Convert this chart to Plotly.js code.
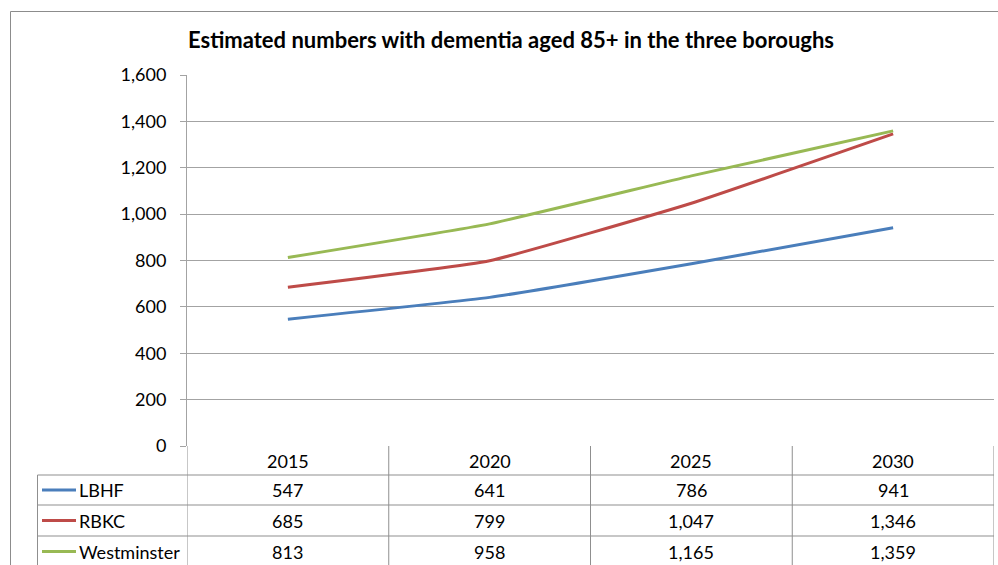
<!DOCTYPE html>
<html>
<head>
<meta charset="utf-8">
<script src="https://cdn.plot.ly/plotly-3.0.1.min.js"></script>
<style>html,body{margin:0;padding:0;background:#fff;}#chart{width:998px;height:565px;}</style>
</head>
<body>
<div id="chart"></div>
<script>
const years = ["2015", "2020", "2025", "2030"];
const seriesNames = ["LBHF", "RBKC", "Westminster"];
const lbhf = [547, 641, 786, 941];
const rbkc = [685, 799, 1047, 1346];
const westminster = [813, 958, 1165, 1359];
const seriesColors = ["#4a7ebb", "#be4b48", "#98b954"];
const yTickVals = [0, 200, 400, 600, 800, 1000, 1200, 1400, 1600];

const seriesValues = [lbhf, rbkc, westminster];
const FONT = "Lato, Calibri, 'Liberation Sans', sans-serif";

// layout geometry (pixels)
const W = 998, H = 565;
const plotL = 187, plotR = 994, plotT = 75, plotB = 446;
const plotW = plotR - plotL, plotH = plotB - plotT;
const px = p => (p - plotL) / plotW;   // pixel x -> paper
const py = p => (plotB - p) / plotH;   // pixel y -> paper

const rowEdges = [446, 475, 505, 536, 567];
const idx = years.map((_, i) => i);

const traces = seriesValues.map((vals, k) => ({
  type: "scatter",
  mode: "lines",
  x: idx,
  y: vals,
  name: seriesNames[k],
  line: {color: seriesColors[k], width: 3, shape: "spline", smoothing: 0.35},
  hoverinfo: "skip"
}));

const gridCol = "#a3a3a3";
const tableCol = "#8f8f8f";
const shapes = [];
// outer chart border
shapes.push({type: "rect", xref: "paper", yref: "paper",
  x0: px(10.5), x1: px(1010), y0: py(11.5), y1: py(600),
  line: {color: "#8c8c8c", width: 1}, fillcolor: "rgba(0,0,0,0)", layer: "below"});
// table horizontal lines
for (let r = 1; r < rowEdges.length; r++) {
  shapes.push({type: "line", xref: "paper", yref: "paper",
    x0: px(37.5), x1: px(plotR), y0: py(rowEdges[r]), y1: py(rowEdges[r]),
    line: {color: tableCol, width: 1}});
}
// table vertical lines (category boundaries)
for (let i = 0; i <= years.length; i++) {
  shapes.push({type: "line", xref: "x", yref: "paper",
    x0: i - 0.5, x1: i - 0.5, y0: py(rowEdges[0]), y1: py(rowEdges[rowEdges.length - 1]),
    line: {color: tableCol, width: 1}});
}
// legend column left edge
shapes.push({type: "line", xref: "paper", yref: "paper",
  x0: px(37.5), x1: px(37.5), y0: py(rowEdges[1]), y1: py(rowEdges[rowEdges.length - 1]),
  line: {color: tableCol, width: 1}});
// legend keys
seriesNames.forEach((n, k) => {
  const yc = (rowEdges[k + 1] + rowEdges[k + 2]) / 2;
  shapes.push({type: "line", xref: "paper", yref: "paper",
    x0: px(42), x1: px(76), y0: py(yc), y1: py(yc),
    line: {color: seriesColors[k], width: 3}});
});

const annotations = [];
const cellFont = {family: FONT, size: 18, color: "#000"};
years.forEach((yr, i) => {
  annotations.push({xref: "x", yref: "paper", x: i, y: py((rowEdges[0] + rowEdges[1]) / 2),
    text: yr, showarrow: false, font: cellFont, xanchor: "center", yanchor: "middle"});
});
seriesValues.forEach((vals, k) => {
  const yc = (rowEdges[k + 1] + rowEdges[k + 2]) / 2;
  annotations.push({xref: "paper", yref: "paper", x: px(77), y: py(yc),
    text: seriesNames[k], showarrow: false, font: cellFont, xanchor: "left", yanchor: "middle"});
  vals.forEach((v, i) => {
    annotations.push({xref: "x", yref: "paper", x: i, y: py(yc),
      text: v.toLocaleString("en-US"), showarrow: false, font: cellFont,
      xanchor: "center", yanchor: "middle"});
  });
});

const layout = {
  width: W, height: H,
  margin: {l: plotL, r: W - plotR, t: plotT, b: H - plotB, pad: 0},
  paper_bgcolor: "#fff", plot_bgcolor: "#fff",
  showlegend: false,
  title: {text: "<b>Estimated numbers with dementia aged 85+ in the three boroughs</b>",
    font: {family: FONT, size: 22, color: "#000"},
    x: 511 / W, xanchor: "center", y: 1 - 40 / H, yanchor: "middle"},
  xaxis: {range: [-0.5, years.length - 0.5], showgrid: false, zeroline: false,
    showticklabels: false, ticks: "", showline: false, fixedrange: true},
  yaxis: {range: [0, 1600], tickvals: yTickVals, tickformat: ",d",
    showgrid: true, gridcolor: gridCol, gridwidth: 1, zeroline: false,
    showline: true, linecolor: gridCol, linewidth: 1,
    ticks: "outside", ticklen: 6, tickcolor: gridCol, tickwidth: 1,
    ticklabelstandoff: 10,
    tickfont: {family: FONT, size: 18, color: "#000"}, fixedrange: true},
  shapes: shapes,
  annotations: annotations
};

Plotly.newPlot("chart", traces, layout, {displayModeBar: false, staticPlot: true});
</script>
</body>
</html>
